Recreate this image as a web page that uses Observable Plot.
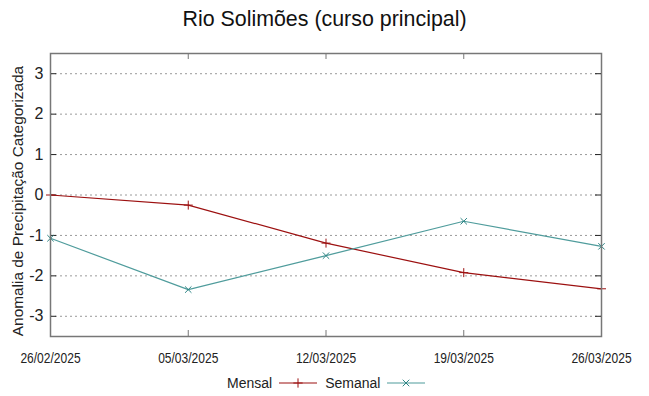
<!DOCTYPE html>
<html>
<head>
<meta charset="utf-8">
<script src="https://cdn.jsdelivr.net/npm/d3@7"></script>
<script src="https://cdn.jsdelivr.net/npm/@observablehq/plot@0.6"></script>
<style>
  html, body { margin: 0; padding: 0; background: #fff; }
  #wrap { position: relative; width: 649px; height: 396px; font-family: "Liberation Sans", Arial, sans-serif; }
  #title { position: absolute; left: 0; top: 7px; width: 649px; text-align: center; font-size: 21.4px; color: #111; }
  #legend { position: absolute; top: 373px; left: 227px; font-size: 14px; color: #222; display: flex; align-items: center; height: 20px; }
  #legend span { margin-right: 7px; }
  #legend svg { margin-right: 8px; }
</style>
</head>
<body>
<div id="wrap">
  <div id="title">Rio Solimões (curso principal)</div>
  <div id="chart"></div>
  <div id="legend"></div>
</div>
<script>
const dates = ["2025-02-26", "2025-03-05", "2025-03-12", "2025-03-19", "2025-03-26"];
const mensal = [0.0, -0.25, -1.19, -1.92, -2.32];
const semanal = [-1.07, -2.34, -1.50, -0.65, -1.27];
const yTicks = [-3, -2, -1, 0, 1, 2, 3];
const seriesNames = ["Mensal", "Semanal"];
const colors = { Mensal: "#9c1010", Semanal: "#4f9c9c" };
const markerColors = { Mensal: "#9c1010", Semanal: "#2e8585" };
const symbols = { Mensal: "plus", Semanal: "times" };

const parse = d3.utcParse("%Y-%m-%d");
const xDates = dates.map(parse);
const rows = [];
dates.forEach((d, i) => {
  rows.push({ date: xDates[i], value: mensal[i], serie: "Mensal" });
  rows.push({ date: xDates[i], value: semanal[i], serie: "Semanal" });
});

const W = 649, H = 396, mL = 50, mR = 48, mT = 53, mB = 60;
const pw = W - mL - mR, ph = H - mT - mB;
const tickLen = 6;
const fmt = d3.utcFormat("%d/%m/%Y");

const chart = Plot.plot({
  width: W, height: H,
  marginLeft: mL, marginRight: mR, marginTop: mT, marginBottom: mB,
  style: { fontFamily: "Liberation Sans, Arial, sans-serif", background: "#fff" },
  x: { type: "utc", domain: [xDates[0], xDates[xDates.length - 1]] },
  y: { domain: [-3.5, 3.5] },
  marks: [
    Plot.ruleY(yTicks, { y: d => d, stroke: "#9a9a9a", strokeDasharray: "2,3", strokeWidth: 1 }),
    Plot.ruleY(yTicks, { y: d => d, stroke: "#222", insetRight: pw - tickLen }),
    Plot.ruleY(yTicks, { y: d => d, stroke: "#222", insetLeft: pw - tickLen }),
    Plot.ruleX(xDates, { x: d => d, stroke: "#777", insetTop: ph - tickLen }),
    Plot.ruleX(xDates, { x: d => d, stroke: "#777", insetBottom: ph - tickLen }),
    Plot.axisY({ ticks: yTicks, tickSize: 0, tickPadding: 7, fontSize: 16, label: null, fill: "#222", tickFormat: d => String(d) }),
    Plot.axisX({ ticks: xDates, tickSize: 0, tickPadding: 17, tickFormat: fmt, fontSize: 14, label: null, fill: "#222" }),
    Plot.text(["Anomalia de Precipitação Categorizada"], { frameAnchor: "left", text: d => d, rotate: -90, textAnchor: "middle", dx: -32, dy: 6, fontSize: 15.4, fill: "#222" }),
    Plot.line(rows, { x: "date", y: "value", z: "serie", stroke: d => colors[d.serie], strokeWidth: 1.2 }),
    Plot.dot(rows, { x: "date", y: "value", symbol: d => symbols[d.serie], stroke: d => markerColors[d.serie], r: 3, strokeWidth: 1 }),
    Plot.frame({ stroke: "#777", strokeWidth: 1.5 })
  ]
});
document.getElementById("chart").appendChild(chart);

// condense x tick labels (narrow face, as in the reference)
d3.select(chart).selectAll('g[aria-label="x-axis tick label"] text').each(function () {
  const t = this.getAttribute("transform") || "";
  this.setAttribute("transform", t + " scale(0.86,1)");
});

const legend = document.getElementById("legend");
seriesNames.forEach(name => {
  const s = document.createElement("span");
  s.textContent = name;
  legend.appendChild(s);
  const svg = d3.create("svg").attr("width", 38).attr("height", 12);
  svg.append("line").attr("x1", 0).attr("x2", 38).attr("y1", 6).attr("y2", 6).attr("stroke", colors[name]).attr("stroke-width", 1.2);
  const sym = name === "Mensal" ? d3.symbolPlus : d3.symbolTimes;
  svg.append("path").attr("d", d3.symbol(sym, 30)()).attr("transform", "translate(19,6)").attr("fill", "none").attr("stroke", markerColors[name]);
  legend.appendChild(svg.node());
});
</script>
</body>
</html>
